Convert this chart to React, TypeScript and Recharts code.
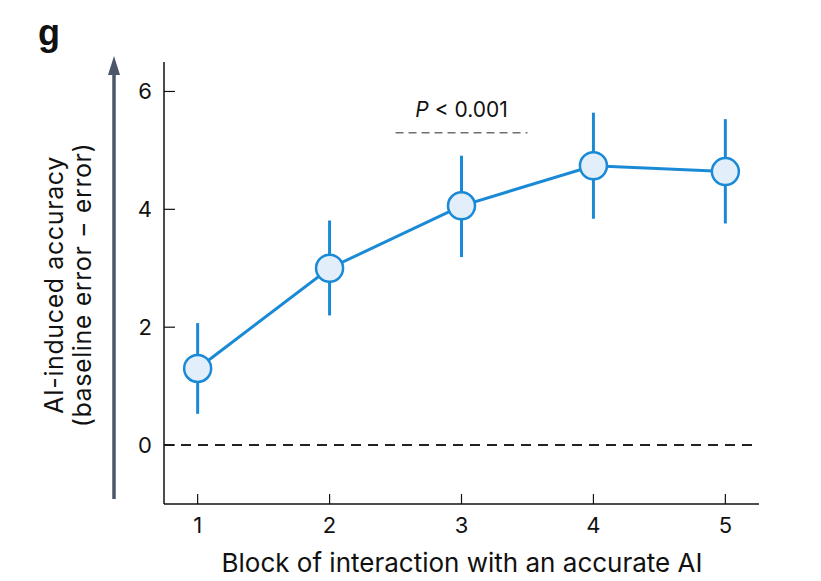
import React from "react";
import { ComposedChart, Line, XAxis, YAxis, ErrorBar, ReferenceLine } from "recharts";

const blocks = [1, 2, 3, 4, 5];
const meanAccuracy = [1.3, 3.0, 4.06, 4.74, 4.64];
const ciLow = [0.53, 2.2, 3.19, 3.84, 3.76];
const ciHigh = [2.07, 3.81, 4.91, 5.64, 5.53];
const xTicks = [1, 2, 3, 4, 5];
const yTicks = [0, 2, 4, 6];

const BLUE = "#1a8ad6";
const FILL = "#e2effa";
const FONT = "Inter, 'Noto Sans', sans-serif";

const data = blocks.map((b, i) => ({
  block: b,
  acc: meanAccuracy[i],
  err: [meanAccuracy[i] - ciLow[i], ciHigh[i] - meanAccuracy[i]],
}));

// ticks point inwards, so draw them together with the label
const YTick = (props: any) => {
  const { x, y, payload } = props;
  const m = 12;
  return (
    <g>
      <line x1={x + m} x2={x + m + 11} y1={y} y2={y} stroke="#111" strokeWidth={1.2} />
      <text x={x} y={y} dy="0.36em" textAnchor="end" fontSize={22} fontFamily={FONT} fill="#111">
        {payload.value}
      </text>
    </g>
  );
};

const XTick = (props: any) => {
  const { x, y, payload } = props;
  const m = 12;
  return (
    <g>
      <line x1={x} x2={x} y1={y - m} y2={y - m - 10} stroke="#111" strokeWidth={1.2} />
      <text x={x} y={y} dy={17} textAnchor="middle" fontSize={22} fontFamily={FONT} fill="#111">
        {payload.value}
      </text>
    </g>
  );
};

const PLabel = (props: any) => {
  const { viewBox } = props;
  const cx = viewBox.x + viewBox.width / 2;
  return (
    <text x={cx} y={viewBox.y - 16} textAnchor="middle" fontSize={21} fontFamily={FONT} fill="#111">
      <tspan fontStyle="italic">P</tspan>
      <tspan> &lt; 0.001</tspan>
    </text>
  );
};

export default function App() {
  return (
    <div style={{ position: "absolute", left: 0, top: 0, width: 821, height: 581, background: "#fff" }}>
      <ComposedChart
        width={821}
        height={581}
        data={data}
        margin={{ top: 62, right: 62, bottom: 37, left: 104 }}
      >
        <XAxis
          dataKey="block"
          type="number"
          domain={[0.745, 5.255]}
          ticks={xTicks}
          tickSize={0}
          tickMargin={12}
          tickLine={false}
          tick={<XTick />}
          axisLine={{ stroke: "#111", strokeWidth: 1.5 }}
          height={40}
          allowDataOverflow
        />
        <YAxis
          type="number"
          domain={[-1, 6.5]}
          ticks={yTicks}
          tickSize={0}
          tickMargin={12}
          tickLine={false}
          tick={<YTick />}
          axisLine={{ stroke: "#111", strokeWidth: 1.5 }}
          width={60}
          allowDataOverflow
        />
        <ReferenceLine y={0} stroke="#222" strokeWidth={2} strokeDasharray="10 7" />
        <ReferenceLine
          segment={[
            { x: 2.5, y: 5.3 },
            { x: 3.5, y: 5.3 },
          ]}
          stroke="#707070"
          strokeWidth={1.5}
          strokeDasharray="8 5"
          label={<PLabel />}
        />
        <Line
          dataKey="acc"
          stroke={BLUE}
          strokeWidth={3}
          dot={{ r: 13.5, fill: FILL, stroke: BLUE, strokeWidth: 2.5 }}
          activeDot={false}
          isAnimationActive={false}
        >
          <ErrorBar dataKey="err" width={0} stroke={BLUE} strokeWidth={3} direction="y" />
        </Line>
      </ComposedChart>
      <svg
        width={821}
        height={581}
        style={{ position: "absolute", left: 0, top: 0, pointerEvents: "none" }}
      >
        <text x={38} y={45} fontSize={36} fontWeight="bold" fontFamily="'Liberation Sans', Arial, sans-serif" fill="#111">
          g
        </text>
        <line x1={114} x2={114} y1={499} y2={70} stroke="#4d5669" strokeWidth={3.5} />
        <polygon points="114,56 108,75 120,75" fill="#4d5669" />
        <g transform="translate(0, 285) rotate(-90)" fontFamily={FONT} fontSize={25} fill="#111" letterSpacing={0.6}>
          <text x={0} y={63} textAnchor="middle">AI-induced accuracy</text>
          <text x={0} y={91} textAnchor="middle">(baseline error − error)</text>
        </g>
        <text x={462} y={572} textAnchor="middle" fontFamily={FONT} fontSize={26} fill="#111">
          Block of interaction with an accurate AI
        </text>
      </svg>
    </div>
  );
}
